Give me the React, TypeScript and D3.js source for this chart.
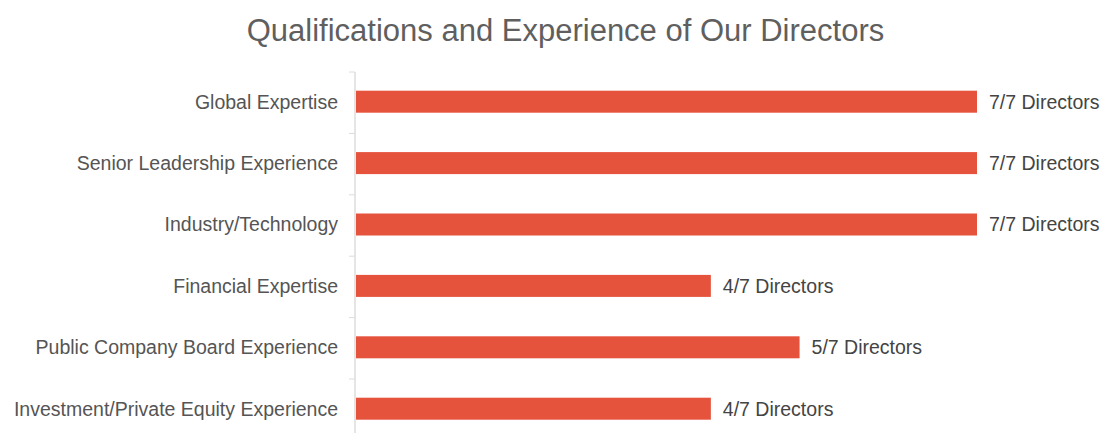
import React from "react";
import * as d3 from "d3";

const categories = [
  "Global Expertise",
  "Senior Leadership Experience",
  "Industry/Technology",
  "Financial Expertise",
  "Public Company Board Experience",
  "Investment/Private Equity Experience",
];
const values = [7, 7, 7, 4, 5, 4];
const total = 7;
const title = "Qualifications and Experience of Our Directors";

const W = 1103;
const H = 433;
const FONT = "'Liberation Sans', Arial, sans-serif";

export default function App() {
  const x0 = 356;
  const x = d3.scaleLinear().domain([0, total]).range([x0, 977]);
  const bandStart = 72;
  const y = d3
    .scaleBand<string>()
    .domain(categories)
    .range([bandStart, bandStart + 61.4 * categories.length]);
  const barH = 22;
  const step = y.step();

  return (
    <svg
      width={W}
      height={H}
      style={{ position: "absolute", left: 0, top: 0, background: "#fff" }}
      fontFamily={FONT}
    >
      <text x={565.5} y={41} textAnchor="middle" fontSize={31} fill="#5f5f5f">
        {title}
      </text>
      <line x1={x0 - 1} x2={x0 - 1} y1={bandStart} y2={H} stroke="#dcdcdc" strokeWidth={1.5} />
      {d3.range(categories.length + 1).map((i) => (
        <line
          key={"t" + i}
          x1={x0 - 7}
          x2={x0 - 1}
          y1={bandStart + i * step}
          y2={bandStart + i * step}
          stroke="#dcdcdc"
          strokeWidth={1}
        />
      ))}
      {categories.map((c, i) => {
        const cy = (y(c) as number) + step / 2 - 1;
        return (
          <g key={c}>
            <rect
              x={x(0)}
              y={cy - barH / 2}
              width={x(values[i]) - x(0)}
              height={barH}
              fill="#e5533d"
            />
            <text x={338} y={cy} dy="0.35em" textAnchor="end" fontSize={19.5} fill="#555">
              {c}
            </text>
            <text
              x={x(values[i]) + 12}
              y={cy}
              dy="0.35em"
              textAnchor="start"
              fontSize={19.5}
              fill="#444"
            >
              {`${values[i]}/${total} Directors`}
            </text>
          </g>
        );
      })}
    </svg>
  );
}
